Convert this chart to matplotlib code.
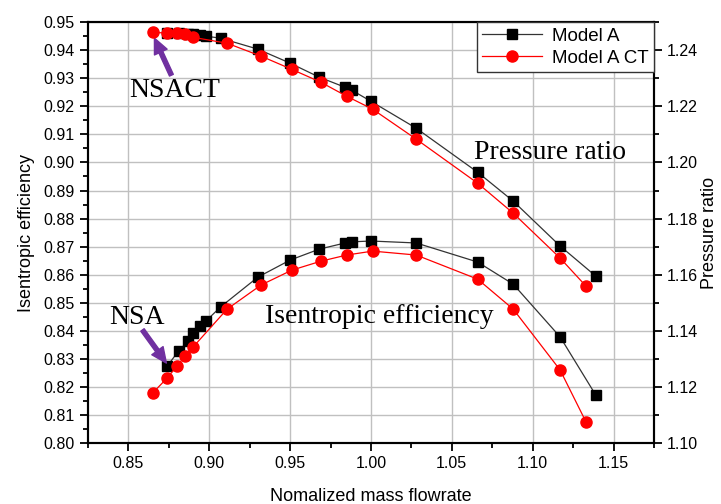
import matplotlib
matplotlib.use("Agg")
import matplotlib.pyplot as plt
from matplotlib.ticker import MultipleLocator

plt.rcParams["font.family"] = ["Liberation Sans", "DejaVu Sans"]

# Model A (black squares)
flow_a = [0.874, 0.881, 0.887, 0.890, 0.894, 0.898, 0.907, 0.930, 0.950,
          0.968, 0.984, 0.988, 1.000, 1.028, 1.066, 1.088, 1.117, 1.139]
eff_a = [0.8274, 0.8328, 0.8363, 0.8392, 0.8417, 0.8435, 0.8485, 0.8591, 0.8652,
         0.8691, 0.8713, 0.8717, 0.8720, 0.8713, 0.8645, 0.8566, 0.8378, 0.8171]
pr_a = [1.2461, 1.2461, 1.2457, 1.2457, 1.2454, 1.2450, 1.2443, 1.2404, 1.2354,
        1.2304, 1.2268, 1.2258, 1.2218, 1.2122, 1.1965, 1.1862, 1.1702, 1.1595]

# Model A CT (red circles)
flow_ct = [0.865, 0.874, 0.880, 0.885, 0.890, 0.911, 0.932, 0.951,
           0.969, 0.985, 1.001, 1.028, 1.066, 1.088, 1.117, 1.133]
eff_ct = [0.8178, 0.8232, 0.8274, 0.8310, 0.8342, 0.8477, 0.8563, 0.8616,
          0.8648, 0.8670, 0.8684, 0.8670, 0.8584, 0.8477, 0.8260, 0.8075]
pr_ct = [1.2464, 1.2461, 1.2461, 1.2457, 1.2446, 1.2425, 1.2379, 1.2332,
         1.2286, 1.2236, 1.2190, 1.2083, 1.1926, 1.1819, 1.1659, 1.1559]

fig = plt.figure(figsize=(7.21, 5.04), dpi=100)
ax = fig.add_axes([0.122, 0.121, 0.785, 0.835])
ax2 = ax.twinx()

ax.plot(flow_a, eff_a, color="#333333", lw=0.9, marker="s", ms=7,
        mfc="black", mec="black")
ax.plot(flow_ct, eff_ct, color="red", lw=0.9, marker="o", ms=8,
        mfc="red", mec="red")
l1, = ax2.plot(flow_a, pr_a, color="#333333", lw=0.9, marker="s", ms=7,
               mfc="black", mec="black", label="Model A")
l2, = ax2.plot(flow_ct, pr_ct, color="red", lw=0.9, marker="o", ms=8,
               mfc="red", mec="red", label="Model A CT")

ax.set_xlim(0.825, 1.175)
ax.set_ylim(0.80, 0.95)
ax2.set_ylim(1.10, 1.25)

ax.xaxis.set_major_locator(MultipleLocator(0.05))
ax.xaxis.set_minor_locator(MultipleLocator(0.025))
ax.yaxis.set_major_locator(MultipleLocator(0.01))
ax.yaxis.set_minor_locator(MultipleLocator(0.005))
ax2.yaxis.set_major_locator(MultipleLocator(0.02))
ax2.yaxis.set_minor_locator(MultipleLocator(0.01))
ax.xaxis.set_major_formatter(plt.FormatStrFormatter("%.2f"))
ax.yaxis.set_major_formatter(plt.FormatStrFormatter("%.2f"))
ax2.yaxis.set_major_formatter(plt.FormatStrFormatter("%.2f"))

ax.grid(True, which="major", color="#c0c0c0", lw=1)
ax.set_axisbelow(True)

for a in (ax, ax2):
    for s in a.spines.values():
        s.set_linewidth(1.5)
ax.tick_params(which="both", direction="out", width=1.3, labelsize=11.5,
               top=False)
ax.tick_params(which="major", length=6)
ax.tick_params(which="minor", length=3.5)
ax2.tick_params(which="both", direction="out", width=1.3, labelsize=11.5)
ax2.tick_params(which="major", length=6)
ax2.tick_params(which="minor", length=3.5)

ax.set_xlabel("Nomalized mass flowrate", fontsize=13, labelpad=12)
ax.set_ylabel("Isentropic efficiency", fontsize=13, labelpad=6)
ax2.set_ylabel("Pressure ratio", fontsize=13, labelpad=2)

leg = ax2.legend(handles=[l1, l2], loc="upper right", fontsize=13.5,
                 fancybox=False, edgecolor="#333333", framealpha=1,
                 borderaxespad=0, handlelength=3.2, labelspacing=0.25,
                 borderpad=0.3, handletextpad=0.5)
leg.get_frame().set_linewidth(1.0)

serif = ["Liberation Serif", "DejaVu Serif"]
purple = "#7030a0"
arrow = dict(facecolor=purple, edgecolor=purple, width=3, headwidth=10,
             headlength=11, shrink=0)
ax.annotate("", xy=(0.8661, 0.9443), xytext=(0.8766, 0.9311),
            arrowprops=arrow)
ax.annotate("", xy=(0.8735, 0.8285), xytext=(0.8587, 0.8403),
            arrowprops=arrow)
ax.text(0.8506, 0.9258, "NSACT", fontsize=20, family=serif,
        ha="left", va="center")
ax.text(0.8383, 0.8449, "NSA", fontsize=20, family=serif,
        ha="left", va="center")
ax.text(1.111, 0.9037, "Pressure ratio", fontsize=20, family=serif,
        ha="center", va="center")
ax.text(1.005, 0.8452, "Isentropic efficiency", fontsize=20, family=serif,
        ha="center", va="center")

fig.savefig("out.png", dpi=100)
